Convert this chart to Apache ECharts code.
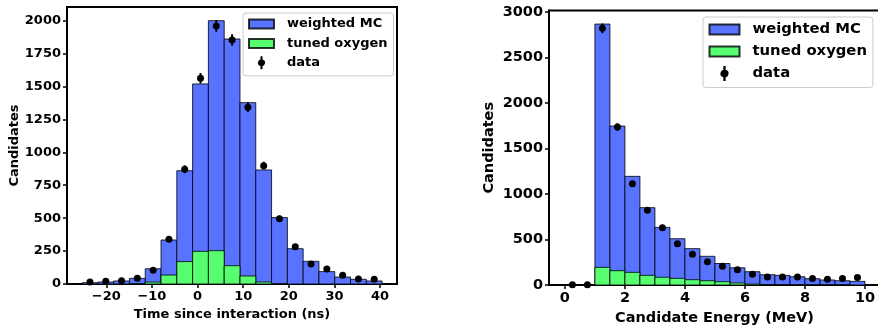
<!DOCTYPE html>
<html>
<head>
<meta charset="utf-8">
<script src="https://cdn.jsdelivr.net/npm/echarts@6/dist/echarts.min.js"></script>
<style>html,body{margin:0;padding:0;background:#fff}#c{width:878px;height:326px}</style>
</head>
<body>
<div id="c"></div>
<script>
// ---- Left panel: time since interaction ----
const leftEdges = [-25.3, -21.84, -18.38, -14.92, -11.46, -8.0, -4.54, -1.08, 2.38, 5.84, 9.3, 12.76, 16.22, 19.68, 23.14, 26.6, 30.06, 33.52, 36.98, 40.44];
const leftMC = [10, 15, 23, 43, 116, 334, 860, 1519, 1999, 1860, 1377, 866, 504, 268, 172, 94, 53, 36, 23];
const leftOxygen = [0, 0, 0, 2, 15, 68, 170, 248, 253, 139, 61, 15, 2, 0, 0, 0, 0, 0, 0];
const leftData = [15, 20, 25, 43, 104, 340, 871, 1562, 1959, 1853, 1342, 898, 496, 283, 152, 114, 66, 38, 36];
const leftErr = [4, 4, 5, 7, 10, 18, 30, 40, 44, 43, 37, 30, 22, 17, 12, 11, 8, 6, 6];
const leftXTicks = [-20, -10, 0, 10, 20, 30, 40];
const leftYTicks = [0, 250, 500, 750, 1000, 1250, 1500, 1750, 2000];

// ---- Right panel: candidate energy ----
const rightEdges = [0, 0.5, 1, 1.5, 2, 2.5, 3, 3.5, 4, 4.5, 5, 5.5, 6, 6.5, 7, 7.5, 8, 8.5, 9, 9.5, 10];
const rightMC = [0, 0, 2865, 1745, 1193, 849, 633, 508, 399, 315, 236, 189, 146, 113, 106, 91, 69, 55, 47, 40];
const rightOxygen = [0, 0, 194, 157, 139, 106, 85, 73, 58, 47, 36, 22, 10, 5, 3, 2, 1, 1, 1, 0];
const rightData = [3, 2, 2818, 1734, 1112, 820, 629, 453, 337, 254, 207, 167, 119, 88, 88, 88, 70, 62, 70, 82];
const rightErr = [2, 1, 53, 42, 33, 29, 25, 21, 18, 16, 14, 13, 11, 9, 9, 9, 8, 8, 8, 9];
const rightXTicks = [0, 2, 4, 6, 8, 10];
const rightYTicks = [0, 500, 1000, 1500, 2000, 2500, 3000];

const seriesNames = ['weighted MC', 'tuned oxygen', 'data'];

const BLUE = '#5773ff';
const GREEN = '#57ff70';
const EDGE = 'rgba(0,0,0,0.8)';
const FONT = 'DejaVu Sans';

function histData(edges, vals) {
  return vals.map((v, i) => [edges[i], edges[i + 1], v]);
}
function pointData(edges, vals, errs) {
  return vals.map((v, i) => [(edges[i] + edges[i + 1]) / 2, v, errs[i]]);
}
function makeBarRender(fill) {
  return function (params, api) {
    const v = api.value(2);
    if (!v) return null;
    const p0 = api.coord([api.value(0), v]);
    const p1 = api.coord([api.value(1), 0]);
    return {
      type: 'rect',
      shape: { x: p0[0], y: p0[1], width: p1[0] - p0[0], height: p1[1] - p0[1] },
      style: { fill: fill, stroke: EDGE, lineWidth: 1 }
    };
  };
}
function pointRender(params, api) {
  const x = api.value(0), v = api.value(1), e = api.value(2);
  const c = api.coord([x, v]);
  const t = api.coord([x, v + e]);
  const b = api.coord([x, v - e]);
  return {
    type: 'group',
    children: [
      { type: 'line', shape: { x1: c[0], y1: t[1], x2: c[0], y2: b[1] }, style: { stroke: '#000', lineWidth: 2 } },
      { type: 'circle', shape: { cx: c[0], cy: c[1], r: 3.5 }, style: { fill: '#000' } }
    ]
  };
}
const fmt = v => (v < 0 ? '\u2212' + (-v) : '' + v);

function xAxis(gi, min, max, ticks, name, fs, nameGap) {
  return {
    type: 'value', gridIndex: gi, min: min, max: max,
    name: name, nameLocation: 'middle', nameGap: nameGap,
    nameTextStyle: { fontFamily: FONT, fontWeight: 'bold', fontSize: fs, color: '#000' },
    axisLine: { show: true, onZero: false, lineStyle: { color: '#000', width: 2 } },
    axisTick: { show: true, length: 4, customValues: ticks, lineStyle: { color: '#000', width: 1.5 } },
    axisLabel: { customValues: ticks, formatter: fmt, margin: 6, fontFamily: FONT, fontWeight: 'bold', fontSize: fs, color: '#000' },
    splitLine: { show: false }
  };
}
function yAxis(gi, max, ticks, fs, nameGap) {
  return {
    type: 'value', gridIndex: gi, min: 0, max: max,
    name: 'Candidates', nameLocation: 'middle', nameGap: nameGap,
    nameTextStyle: { fontFamily: FONT, fontWeight: 'bold', fontSize: fs, color: '#000' },
    axisLine: { show: true, onZero: false, lineStyle: { color: '#000', width: 2 } },
    axisTick: { show: true, length: 4, customValues: ticks, lineStyle: { color: '#000', width: 1.5 } },
    axisLabel: { customValues: ticks, formatter: fmt, margin: 6, fontFamily: FONT, fontWeight: 'bold', fontSize: fs, color: '#000' },
    splitLine: { show: false }
  };
}

const rectIcon = 'path://M0,0H25V9H0Z';
const rectIconR = 'path://M0,0H30V10H0Z';
const dataIcon = 'path://M2.5,0H4.5V3.15A3.5,3.5 0 0 1 4.5,9.85V13H2.5V9.85A3.5,3.5 0 0 1 2.5,3.15Z';

function legend(left, top, iw, ih, gap, fs, pad, rIcon) {
  return {
    left: left, top: top, orient: 'vertical', itemWidth: iw, itemHeight: ih, itemGap: gap,
    padding: pad, backgroundColor: 'rgba(255,255,255,0.85)', borderColor: '#cccccc', borderWidth: 1, borderRadius: 3,
    selectedMode: false,
    textStyle: { fontFamily: FONT, fontWeight: 'bold', fontSize: fs, lineHeight: ih, color: '#000', padding: [0, 0, 0, 8] },
    data: [
      { name: seriesNames[0], icon: rIcon },
      { name: seriesNames[1], icon: rIcon },
      { name: seriesNames[2], icon: dataIcon }
    ]
  };
}

const chart = echarts.init(document.getElementById('c'), null, { renderer: 'canvas' });
chart.setOption({
  animation: false,
  grid: [
    { left: 67, top: 7, width: 330, height: 277, show: true, borderColor: '#000', borderWidth: 2, backgroundColor: 'transparent', outerBoundsMode: 'none', containLabel: false },
    { left: 549, top: 10.5, width: 331, height: 274.5, show: true, borderColor: '#000', borderWidth: 2, backgroundColor: 'transparent', outerBoundsMode: 'none', containLabel: false }
  ],
  xAxis: [
    xAxis(0, -28.6, 43.7, leftXTicks, 'Time since interaction (ns)', 13, 21),
    xAxis(1, -0.53, 10.5, rightXTicks, 'Candidate Energy (MeV)', 14.5, 23)
  ],
  yAxis: [
    yAxis(0, 2103, leftYTicks, 13, 45),
    yAxis(1, 3014, rightYTicks, 14.5, 52)
  ],
  legend: [
    legend(243, 13, 25, 13, 6.4, 13, [4.5, 6, 6.5, 5], rectIcon),
    legend(703, 17, 30, 15, 7, 14.8, [5, 6, 6.5, 5.5], rectIconR)
  ],
  series: [
    { name: seriesNames[0], type: 'custom', xAxisIndex: 0, yAxisIndex: 0, renderItem: makeBarRender(BLUE),
      itemStyle: { color: BLUE, borderColor: EDGE, borderWidth: 1 }, encode: { x: [0, 1], y: 2 }, data: histData(leftEdges, leftMC) },
    { name: seriesNames[1], type: 'custom', xAxisIndex: 0, yAxisIndex: 0, renderItem: makeBarRender(GREEN),
      itemStyle: { color: GREEN, borderColor: EDGE, borderWidth: 1 }, encode: { x: [0, 1], y: 2 }, data: histData(leftEdges, leftOxygen) },
    { name: seriesNames[2], type: 'custom', xAxisIndex: 0, yAxisIndex: 0, renderItem: pointRender,
      itemStyle: { color: '#000' }, encode: { x: 0, y: 1 }, data: pointData(leftEdges, leftData, leftErr), z: 5 },
    { name: seriesNames[0], type: 'custom', xAxisIndex: 1, yAxisIndex: 1, renderItem: makeBarRender(BLUE),
      itemStyle: { color: BLUE, borderColor: EDGE, borderWidth: 1 }, encode: { x: [0, 1], y: 2 }, data: histData(rightEdges, rightMC) },
    { name: seriesNames[1], type: 'custom', xAxisIndex: 1, yAxisIndex: 1, renderItem: makeBarRender(GREEN),
      itemStyle: { color: GREEN, borderColor: EDGE, borderWidth: 1 }, encode: { x: [0, 1], y: 2 }, data: histData(rightEdges, rightOxygen) },
    { name: seriesNames[2], type: 'custom', xAxisIndex: 1, yAxisIndex: 1, renderItem: pointRender,
      itemStyle: { color: '#000' }, encode: { x: 0, y: 1 }, data: pointData(rightEdges, rightData, rightErr), z: 5 }
  ]
});
</script>
</body>
</html>
